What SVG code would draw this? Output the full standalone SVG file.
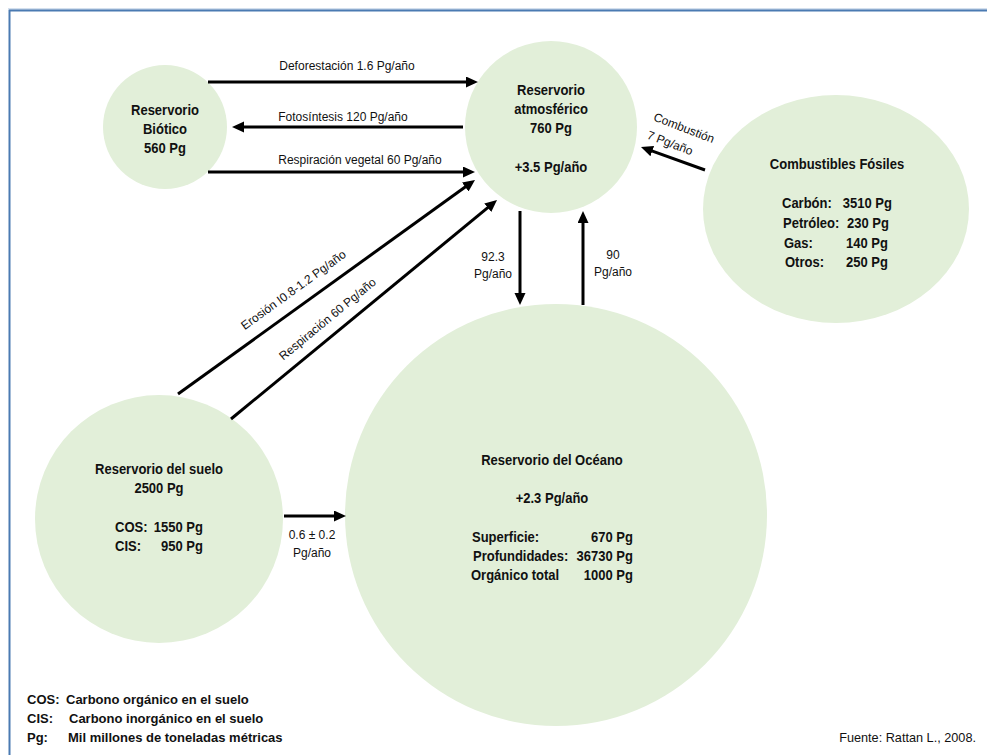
<svg xmlns="http://www.w3.org/2000/svg" width="987" height="755" viewBox="0 0 987 755">
<style>
.n{fill:#e2efd9;}
text{font-family:"Liberation Sans","Arial",sans-serif;fill:#111;}
.b{font-weight:bold;font-size:14px;transform-box:fill-box;transform-origin:left center;transform:scaleX(.93);}
.c{text-anchor:middle;}
.e{text-anchor:end;}
.b.c{transform-origin:center;}
.b.e{transform-origin:right center;}
.l{font-size:12px;}
.lg{font-weight:bold;font-size:13px;}
.f{font-size:12.7px;text-anchor:end;}
.a{stroke:#000;stroke-width:3;fill:none;marker-end:url(#ah);}
</style>
<defs>
<marker id="ah" markerUnits="userSpaceOnUse" markerWidth="14" markerHeight="12" refX="2" refY="5.5" orient="auto">
<path d="M0,0 L12,5.5 L0,11 z" fill="#000"/>
</marker>
</defs>
<rect width="987" height="755" fill="#fff"/>
<g id="frame">
<line x1="8" y1="9" x2="987" y2="9" stroke="#a9c0dc" stroke-width="1"/>
<line x1="9" y1="10.5" x2="987" y2="10.5" stroke="#4a7ab2" stroke-width="2"/>
<line x1="9.5" y1="10" x2="9.5" y2="755" stroke="#4a7ab2" stroke-width="2"/>
</g>
<g id="biotico">
<circle class="n" cx="165" cy="127" r="62"/>
<text class="b c" x="165" y="115">Reservorio</text>
<text class="b c" x="165" y="134">Biótico</text>
<text class="b c" x="165" y="153">560 Pg</text>
</g>
<g id="atmosferico">
<circle class="n" cx="551" cy="127" r="86"/>
<text class="b c" x="551" y="95">Reservorio</text>
<text class="b c" x="551" y="114">atmosférico</text>
<text class="b c" x="551" y="133">760 Pg</text>
<text class="b c" x="551" y="172">+3.5 Pg/año</text>
</g>
<g id="fosiles">
<ellipse class="n" cx="836" cy="209" rx="133" ry="114"/>
<text class="b c" x="837" y="169">Combustibles Fósiles</text>
<text class="b" x="782" y="208">Carbón:</text><text class="b e" x="892" y="208">3510 Pg</text>
<text class="b" x="783" y="228">Petróleo:</text><text class="b e" x="889" y="228">230 Pg</text>
<text class="b" x="784" y="248">Gas:</text><text class="b e" x="888" y="248">140 Pg</text>
<text class="b" x="785" y="267">Otros:</text><text class="b e" x="888" y="267">250 Pg</text>
</g>
<g id="suelo">
<circle class="n" cx="159" cy="519" r="124"/>
<text class="b c" x="159" y="474">Reservorio del suelo</text>
<text class="b c" x="159" y="493">2500 Pg</text>
<text class="b" x="115" y="532">COS:</text><text class="b e" x="203" y="532">1550 Pg</text>
<text class="b" x="115" y="551">CIS:</text><text class="b e" x="203" y="551">950 Pg</text>
</g>
<g id="oceano">
<circle class="n" cx="556" cy="515" r="211"/>
<text class="b c" x="552" y="465">Reservorio del Océano</text>
<text class="b c" x="552" y="503">+2.3 Pg/año</text>
<text class="b" x="472" y="542">Superficie:</text><text class="b e" x="633" y="542">670 Pg</text>
<text class="b" x="473" y="561">Profundidades:</text><text class="b e" x="633" y="561">36730 Pg</text>
<text class="b" x="471" y="580">Orgánico total</text><text class="b e" x="633" y="580">1000 Pg</text>
</g>
<g id="connectors">
<line class="a" x1="208" y1="82" x2="468" y2="82"/>
<line class="a" x1="463" y1="127" x2="242" y2="127"/>
<line class="a" x1="208" y1="172" x2="465" y2="172"/>
<line class="a" x1="178" y1="394" x2="466.9" y2="185.8"/>
<line class="a" x1="231" y1="419" x2="489.3" y2="206.4"/>
<line class="a" x1="520" y1="211" x2="520" y2="295"/>
<line class="a" x1="583" y1="305" x2="583" y2="221"/>
<line class="a" x1="705" y1="170" x2="650.4" y2="150.4"/>
<line class="a" x1="284" y1="516" x2="336" y2="516"/>
<text class="l c" x="347" y="70">Deforestación 1.6 Pg/año</text>
<text class="l c" x="343" y="121">Fotosíntesis 120 Pg/año</text>
<text class="l c" x="360" y="164">Respiración vegetal 60 Pg/año</text>
<text class="l c" transform="translate(293.5,290) rotate(-36)" y="4">Erosión I0.8-1.2 Pg/año</text>
<text class="l c" transform="translate(327.5,319) rotate(-39.5)" y="4">Respiración 60 Pg/año</text>
<text class="l c" x="493" y="261">92.3</text>
<text class="l c" x="493" y="278">Pg/año</text>
<text class="l c" x="613" y="259">90</text>
<text class="l c" x="613" y="276">Pg/año</text>
<text class="l c" transform="translate(684,128) rotate(21)" y="4">Combustión</text>
<text class="l c" transform="translate(670,143) rotate(21)" y="4">7 Pg/año</text>
<text class="l c" x="312" y="539">0.6 ± 0.2</text>
<text class="l c" x="312" y="557">Pg/año</text>
</g>
<g id="legend">
<text class="lg" x="27" y="704">COS:</text><text class="lg" x="66" y="704">Carbono orgánico en el suelo</text>
<text class="lg" x="27" y="723">CIS:</text><text class="lg" x="69" y="723">Carbono inorgánico en el suelo</text>
<text class="lg" x="27" y="742">Pg:</text><text class="lg" x="68" y="742">Mil millones de toneladas métricas</text>
<text class="f" x="976" y="742">Fuente: Rattan L., 2008.</text>
</g>
</svg>
